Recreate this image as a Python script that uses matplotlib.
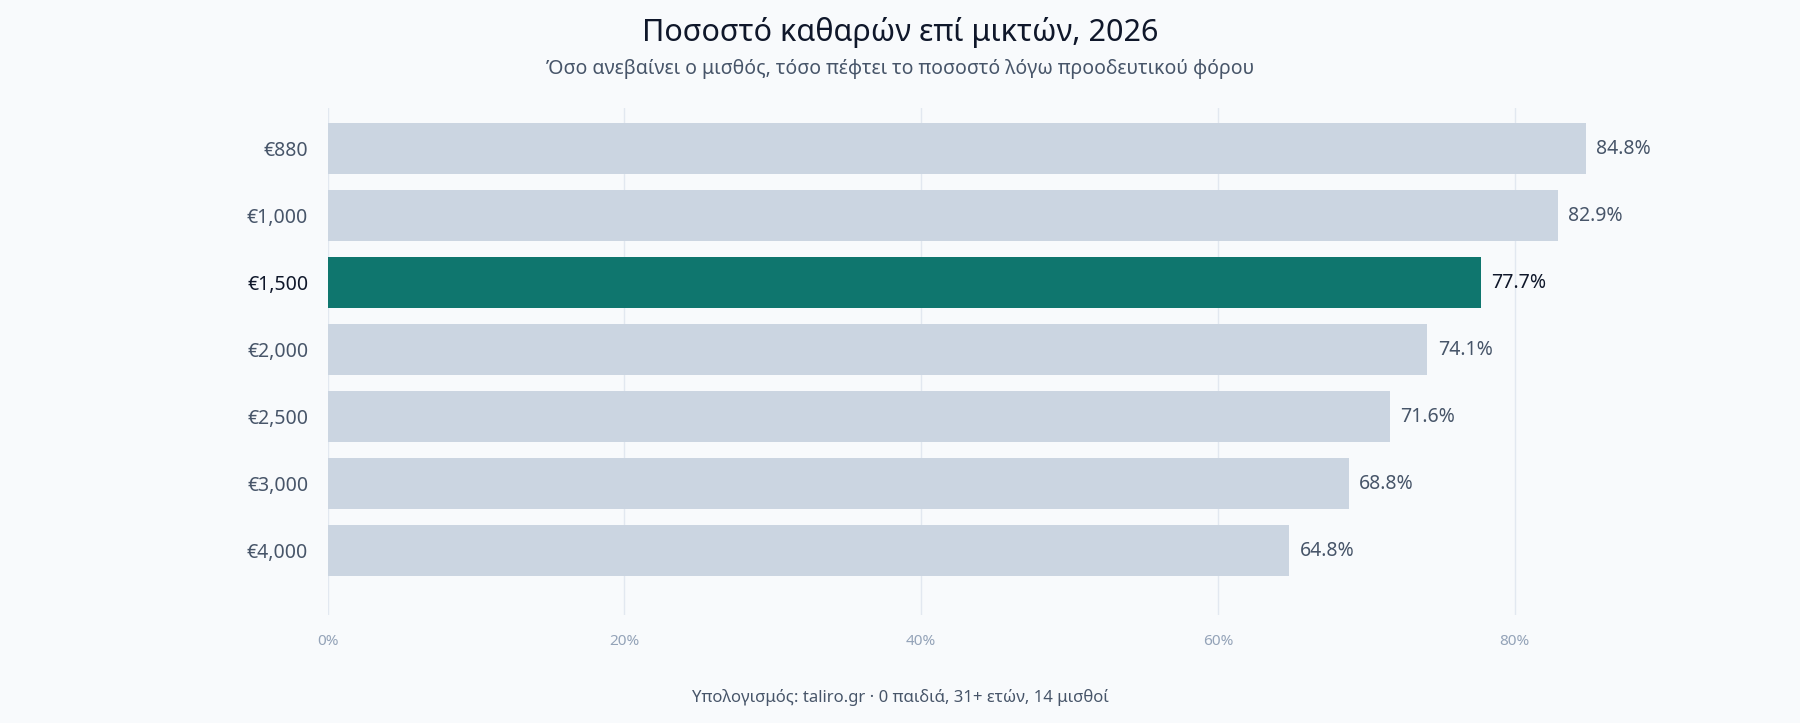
import matplotlib.pyplot as plt

plt.rcParams['font.family'] = ['Noto Sans', 'DejaVu Sans']

salaries = ["€880", "€1,000", "€1,500", "€2,000", "€2,500", "€3,000", "€4,000"]
net_pct = [84.8, 82.9, 77.7, 74.1, 71.6, 68.8, 64.8]
highlight = "€1,500"
xticks = [0, 20, 40, 60, 80]

bg = "#f8fafc"
fig = plt.figure(figsize=(18, 7.23), dpi=100, facecolor=bg)
ax = fig.add_axes([0.182, 0.15, 0.742, 0.70], facecolor=bg)

ypos = list(range(len(salaries)))[::-1]
colors = ["#0f766e" if s == highlight else "#cbd5e1" for s in salaries]
ax.barh(ypos, net_pct, height=0.76, color=colors, zorder=2)

for y, s, v in zip(ypos, salaries, net_pct):
    ax.text(v + 0.7, y, f"{v}%", va="center", ha="left", fontsize=14, fontweight="bold",
            color="#0f172a" if s == highlight else "#475569")

ax.set_yticks(ypos)
ax.set_yticklabels(salaries, fontsize=14, fontweight="bold")
for lbl, s in zip(ax.get_yticklabels(), salaries):
    lbl.set_color("#0f172a" if s == highlight else "#475569")
ax.set_xticks(xticks)
ax.set_xticklabels([f"{t}%" for t in xticks], fontsize=11, color="#94a3b8")
ax.tick_params(length=0, axis="y", pad=14)
ax.tick_params(length=0, axis="x", pad=14)
ax.set_xlim(0, 90)
ax.set_ylim(-0.95, 6.6)
ax.grid(axis="x", color="#e2e8f0", linewidth=1, zorder=0)
for sp in ax.spines.values():
    sp.set_visible(False)

fig.text(0.5, 0.955, "Ποσοστό καθαρών επί μικτών, 2026", ha="center", va="center",
         fontsize=22, fontweight="bold", color="#0f172a")
fig.text(0.5, 0.905, "Όσο ανεβαίνει ο μισθός, τόσο πέφτει το ποσοστό λόγω προοδευτικού φόρου",
         ha="center", va="center", fontsize=14, color="#475569")
fig.text(0.5, 0.035, "Υπολογισμός: taliro.gr · 0 παιδιά, 31+ ετών, 14 μισθοί",
         ha="center", va="center", fontsize=12, color="#475569")

fig.savefig("out.png", facecolor=bg)
